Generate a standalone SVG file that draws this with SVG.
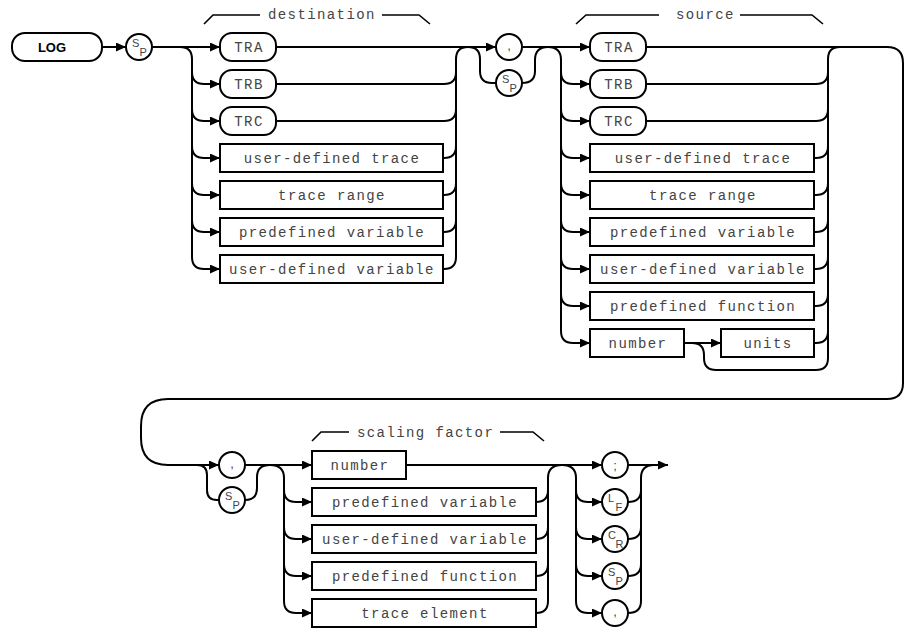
<svg xmlns="http://www.w3.org/2000/svg" width="905" height="628" viewBox="0 0 905 628">
<defs>
<marker id="ah" markerUnits="userSpaceOnUse" markerWidth="11" markerHeight="10" refX="10" refY="4.5" orient="auto">
<path d="M0,0 L10,4.5 L0,9 z" fill="#000"/>
</marker>
<style>
.box{fill:#fff;stroke:#000;stroke-width:2}
.ln{fill:none;stroke:#000;stroke-width:2}
.ar{fill:none;stroke:#000;stroke-width:2;marker-end:url(#ah)}
.br{fill:none;stroke:#000;stroke-width:1.6}
.lbl{font-family:"Liberation Mono","DejaVu Sans Mono",monospace;font-size:14px;letter-spacing:1.4px;fill:#444;text-anchor:middle}
.ttl{font-family:"Liberation Mono","DejaVu Sans Mono",monospace;font-size:14px;letter-spacing:1.4px;fill:#444}
.log{font-family:"Liberation Sans",Arial,sans-serif;font-size:13px;font-weight:bold;fill:#000;text-anchor:middle}
.sm{font-family:"Liberation Sans",Arial,sans-serif;font-size:11px;fill:#444}
.pc{font-family:"Liberation Sans",Arial,sans-serif;font-size:13px;fill:#444;text-anchor:middle}
</style>
</defs>
<rect width="905" height="628" fill="#fff"/>

<g id="connectors">
<path class="ar" d="M102,47 L126,47"/>
<path class="ar" d="M152,47 L220,47"/>
<path class="ln" d="M180,47 Q192,47 192,59 L192,257"/>
<path class="ar" d="M192,72 Q192,84 204,84 L220,84"/>
<path class="ar" d="M192,109 Q192,121 204,121 L220,121"/>
<path class="ar" d="M192,146 Q192,158 204,158 L220,158"/>
<path class="ar" d="M192,183 Q192,195 204,195 L220,195"/>
<path class="ar" d="M192,220 Q192,232 204,232 L220,232"/>
<path class="ar" d="M192,257 Q192,269 204,269 L220,269"/>
<path class="ar" d="M276,47 L496,47"/>
<path class="ln" d="M276,84 L444,84 Q456,84 456,72"/>
<path class="ln" d="M276,121 L444,121 Q456,121 456,109"/>
<path class="ln" d="M443,158 L444,158 Q456,158 456,146"/>
<path class="ln" d="M443,195 L444,195 Q456,195 456,183"/>
<path class="ln" d="M443,232 L444,232 Q456,232 456,220"/>
<path class="ln" d="M443,269 L444,269 Q456,269 456,257"/>
<path class="ln" d="M456,257 L456,59 Q456,47 468,47 Q480,47 480,59 L480,71 Q480,83 492,83 L496,83"/>
<path class="ar" d="M522,47 L590,47"/>
<path class="ln" d="M522,83 Q535,83 535,71 L535,60 Q535,47 548,47 Q561,47 561,60 L561,331"/>
<path class="ar" d="M561,72 Q561,84 573,84 L590,84"/>
<path class="ar" d="M561,109 Q561,121 573,121 L590,121"/>
<path class="ar" d="M561,146 Q561,158 573,158 L590,158"/>
<path class="ar" d="M561,183 Q561,195 573,195 L590,195"/>
<path class="ar" d="M561,220 Q561,232 573,232 L590,232"/>
<path class="ar" d="M561,257 Q561,269 573,269 L590,269"/>
<path class="ar" d="M561,294 Q561,306 573,306 L590,306"/>
<path class="ar" d="M561,331 Q561,343 573,343 L590,343"/>
<path class="ln" d="M646,84 L816,84 Q828,84 828,72"/>
<path class="ln" d="M646,121 L816,121 Q828,121 828,109"/>
<path class="ln" d="M814,158 L816,158 Q828,158 828,146"/>
<path class="ln" d="M814,195 L816,195 Q828,195 828,183"/>
<path class="ln" d="M814,232 L816,232 Q828,232 828,220"/>
<path class="ln" d="M814,269 L816,269 Q828,269 828,257"/>
<path class="ln" d="M814,306 L816,306 Q828,306 828,294"/>
<path class="ln" d="M814,343 L816,343 Q828,343 828,331"/>
<path class="ar" d="M684,343 L721,343"/>
<path class="ln" d="M692,343 Q704,343 704,355 L704,358 Q704,370 716,370 L816,370 Q828,370 828,358 L828,59 Q828,47 840,47"/>
<path class="ar" d="M646,47 L887,47 Q903,47 903,63 L903,383 Q903,399 887,399 L168,399 Q141,399 141,426 L141,438 Q141,465 168,465 L219,465"/>
<path class="ln" d="M197,465 Q207,465 207,475 L207,490 Q207,500 217,500 L219,500"/>
<path class="ar" d="M245,465 L312,465"/>
<path class="ar" d="M245,500 Q257,500 257,488 L257,477 Q257,465 270,465 Q284,465 284,478 L284,601 Q284,613 296,613 L312,613"/>
<path class="ar" d="M284,490 Q284,502 296,502 L312,502"/>
<path class="ar" d="M284,527 Q284,539 296,539 L312,539"/>
<path class="ar" d="M284,564 Q284,576 296,576 L312,576"/>
<path class="ar" d="M406,465 L602,465"/>
<path class="ln" d="M536,502 Q548,502 548,490"/>
<path class="ln" d="M536,539 Q548,539 548,527"/>
<path class="ln" d="M536,576 Q548,576 548,564"/>
<path class="ln" d="M536,613 Q548,613 548,601"/>
<path class="ar" d="M548,601 L548,478 Q548,465 562,465 Q576,465 576,478 L576,601 Q576,613 588,613 L602,613"/>
<path class="ar" d="M576,490 Q576,502 588,502 L602,502"/>
<path class="ar" d="M576,527 Q576,539 588,539 L602,539"/>
<path class="ar" d="M576,564 Q576,576 588,576 L602,576"/>
<path class="ln" d="M628,502 Q641,502 641,490"/>
<path class="ln" d="M628,539 Q641,539 641,527"/>
<path class="ln" d="M628,576 Q641,576 641,564"/>
<path class="ln" d="M628,613 Q641,613 641,601 L641,478 Q641,465 654,465"/>
<path class="ar" d="M628,465 L668,465"/>
<path class="br" d="M204,24 L213,15 L260,15"/>
<path class="br" d="M382,15 L419,15 L430,24"/>
<path class="br" d="M576,24 L586,15 L659,15"/>
<path class="br" d="M740,15 L812,15 L823,24"/>
<path class="br" d="M312,441 L321,432 L349,432"/>
<path class="br" d="M500,432 L533,432 L544,441"/>
</g>

<g id="titles">
<text class="ttl" x="268" y="19">destination</text>
<text class="ttl" x="676" y="19">source</text>
<text class="ttl" x="357" y="437">scaling factor</text>
</g>

<g id="n_log"><rect class="box" x="12" y="33" width="90" height="28" rx="13"/><text class="log" x="52" y="52">LOG</text></g>
<g id="n_sp1"><circle class="box" cx="139" cy="47" r="13"/><text class="sm" x="132" y="47">S</text><text class="sm" x="139.5" y="56">P</text></g>

<g id="d_tra"><rect class="box" x="220" y="33" width="56" height="28" rx="12"/><text class="lbl" x="249" y="52">TRA</text></g>
<g id="d_trb"><rect class="box" x="220" y="70" width="56" height="28" rx="12"/><text class="lbl" x="249" y="89">TRB</text></g>
<g id="d_trc"><rect class="box" x="220" y="107" width="56" height="28" rx="12"/><text class="lbl" x="249" y="126">TRC</text></g>
<g id="d_udt"><rect class="box" x="220" y="144" width="223" height="28"/><text class="lbl" x="332" y="163">user-defined trace</text></g>
<g id="d_tr"><rect class="box" x="220" y="181" width="223" height="28"/><text class="lbl" x="332" y="200">trace range</text></g>
<g id="d_pv"><rect class="box" x="220" y="218" width="223" height="28"/><text class="lbl" x="332" y="237">predefined variable</text></g>
<g id="d_udv"><rect class="box" x="220" y="255" width="223" height="28"/><text class="lbl" x="332" y="274">user-defined variable</text></g>

<g id="n_comma1"><circle class="box" cx="509" cy="47" r="13"/><text class="pc" x="509" y="50">,</text></g>
<g id="n_sp2"><circle class="box" cx="509" cy="83" r="13"/><text class="sm" x="502" y="83">S</text><text class="sm" x="509.5" y="92">P</text></g>

<g id="s_tra"><rect class="box" x="590" y="33" width="56" height="28" rx="12"/><text class="lbl" x="619" y="52">TRA</text></g>
<g id="s_trb"><rect class="box" x="590" y="70" width="56" height="28" rx="12"/><text class="lbl" x="619" y="89">TRB</text></g>
<g id="s_trc"><rect class="box" x="590" y="107" width="56" height="28" rx="12"/><text class="lbl" x="619" y="126">TRC</text></g>
<g id="s_udt"><rect class="box" x="590" y="144" width="224" height="28"/><text class="lbl" x="703" y="163">user-defined trace</text></g>
<g id="s_tr"><rect class="box" x="590" y="181" width="224" height="28"/><text class="lbl" x="703" y="200">trace range</text></g>
<g id="s_pv"><rect class="box" x="590" y="218" width="224" height="28"/><text class="lbl" x="703" y="237">predefined variable</text></g>
<g id="s_udv"><rect class="box" x="590" y="255" width="224" height="28"/><text class="lbl" x="703" y="274">user-defined variable</text></g>
<g id="s_pf"><rect class="box" x="590" y="292" width="224" height="28"/><text class="lbl" x="703" y="311">predefined function</text></g>
<g id="s_num"><rect class="box" x="590" y="329" width="94" height="28"/><text class="lbl" x="638" y="348">number</text></g>
<g id="s_units"><rect class="box" x="721" y="329" width="93" height="28"/><text class="lbl" x="768" y="348">units</text></g>

<g id="n_comma2"><circle class="box" cx="232" cy="465" r="13"/><text class="pc" x="232" y="468">,</text></g>
<g id="n_sp3"><circle class="box" cx="232" cy="500" r="13"/><text class="sm" x="225" y="500">S</text><text class="sm" x="232.5" y="509">P</text></g>

<g id="f_num"><rect class="box" x="312" y="451" width="94" height="28"/><text class="lbl" x="360" y="470">number</text></g>
<g id="f_pv"><rect class="box" x="312" y="488" width="224" height="28"/><text class="lbl" x="425" y="507">predefined variable</text></g>
<g id="f_udv"><rect class="box" x="312" y="525" width="224" height="28"/><text class="lbl" x="425" y="544">user-defined variable</text></g>
<g id="f_pf"><rect class="box" x="312" y="562" width="224" height="28"/><text class="lbl" x="425" y="581">predefined function</text></g>
<g id="f_te"><rect class="box" x="312" y="599" width="224" height="28"/><text class="lbl" x="425" y="618">trace element</text></g>

<g id="t_semi"><circle class="box" cx="615" cy="465" r="13"/><text class="pc" x="615" y="470">;</text></g>
<g id="t_lf"><circle class="box" cx="615" cy="502" r="13"/><text class="sm" x="608" y="502">L</text><text class="sm" x="615.5" y="511">F</text></g>
<g id="t_cr"><circle class="box" cx="615" cy="539" r="13"/><text class="sm" x="608" y="539">C</text><text class="sm" x="615.5" y="548">R</text></g>
<g id="t_sp"><circle class="box" cx="615" cy="576" r="13"/><text class="sm" x="608" y="576">S</text><text class="sm" x="615.5" y="585">P</text></g>
<g id="t_comma"><circle class="box" cx="615" cy="613" r="13"/><text class="pc" x="615" y="616">,</text></g>
</svg>
